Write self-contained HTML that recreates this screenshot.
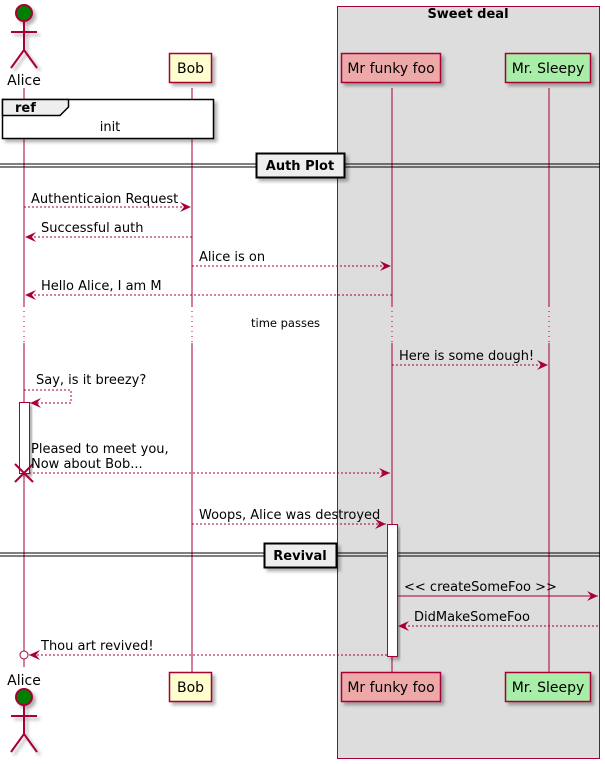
<!DOCTYPE html>
<html><head><meta charset="utf-8"><style>body{margin:0;background:#fff}svg{display:block}text{font-family:"DejaVu Sans","Liberation Sans",sans-serif;fill:#000}</style></head><body>
<svg width="605" height="764" viewBox="0 0 605 764" xmlns="http://www.w3.org/2000/svg">
<defs>
<filter id="sh" x="-20%" y="-20%" width="150%" height="150%"><feDropShadow dx="3" dy="3" stdDeviation="1.5" flood-color="#000" flood-opacity="0.3"/></filter>
<marker id="ah" markerWidth="12" markerHeight="10" refX="11" refY="5" orient="auto" markerUnits="userSpaceOnUse"><path d="M0,0 L11,5 L0,10 L4,5 Z" fill="#A80036"/></marker>
</defs>
<rect x="337.5" y="6.5" width="262" height="752" fill="#DDDDDD" stroke="#A80036"/>
<text x="468" y="18" font-size="13" font-weight="bold" text-anchor="middle">Sweet deal</text>
<g stroke="#A80036" stroke-width="1">
<line x1="24" y1="88" x2="24" y2="306"/><line x1="24" y1="343" x2="24" y2="667"/>
<line x1="192" y1="88" x2="192" y2="306"/><line x1="192" y1="343" x2="192" y2="672"/>
<line x1="392" y1="88" x2="392" y2="306"/><line x1="392" y1="343" x2="392" y2="672"/>
<line x1="549" y1="88" x2="549" y2="306"/><line x1="549" y1="343" x2="549" y2="672"/>
<g stroke-dasharray="1,4"><line x1="24" y1="306" x2="24" y2="343"/><line x1="192" y1="306" x2="192" y2="343"/><line x1="392" y1="306" x2="392" y2="343"/><line x1="549" y1="306" x2="549" y2="343"/></g>
</g>
<g stroke="#A80036" stroke-width="2" fill="none" filter="url(#sh)">
<circle cx="24" cy="13" r="8" fill="#008000"/><line x1="24" y1="21" x2="24" y2="50"/><line x1="11" y1="32" x2="37" y2="32"/><polyline points="11,68 24,50 37,68"/>
<circle cx="24" cy="697" r="8" fill="#008000"/><line x1="24" y1="705" x2="24" y2="734"/><line x1="11" y1="716" x2="37" y2="716"/><polyline points="11,752 24,734 37,752"/>
</g>
<text x="24" y="85" font-size="14" text-anchor="middle">Alice</text>
<text x="24" y="685" font-size="14" text-anchor="middle">Alice</text>
<g stroke="#A80036" stroke-width="1.5" filter="url(#sh)">
<rect x="169.5" y="53.5" width="42" height="29" fill="#FEFECE"/>
<rect x="341.5" y="53.5" width="99" height="29" fill="#EDA8A8"/>
<rect x="505.5" y="53.5" width="85" height="29" fill="#A8EDA8"/>
<rect x="169.5" y="672.5" width="42" height="29" fill="#FEFECE"/>
<rect x="341.5" y="672.5" width="99" height="29" fill="#EDA8A8"/>
<rect x="505.5" y="672.5" width="85" height="29" fill="#A8EDA8"/>
</g>
<g font-size="14" text-anchor="middle">
<text x="190.5" y="73">Bob</text><text x="391" y="73">Mr funky foo</text><text x="548" y="73">Mr. Sleepy</text>
<text x="190.5" y="692">Bob</text><text x="391" y="692">Mr funky foo</text><text x="548" y="692">Mr. Sleepy</text>
</g>
<rect x="2.5" y="99.5" width="211" height="39" fill="#fff" stroke="#000" stroke-width="1.5" filter="url(#sh)"/>
<path d="M2.5,99.5 H68.5 V107 L60,115.5 H2.5 Z" fill="#EEEEEE" stroke="#000" stroke-width="1.5"/>
<text x="15" y="112" font-size="13" font-weight="bold">ref</text>
<text x="110" y="131" font-size="13" text-anchor="middle">init</text>
<g stroke="#000" stroke-width="1"><line x1="0" y1="164" x2="600" y2="164"/><line x1="0" y1="167" x2="600" y2="167"/>
<line x1="0" y1="553" x2="600" y2="553"/><line x1="0" y1="556" x2="600" y2="556"/></g>
<rect x="256.5" y="153.5" width="88" height="24" fill="#EEEEEE" stroke="#000" stroke-width="2" filter="url(#sh)"/>
<text x="300" y="170" font-size="13" font-weight="bold" text-anchor="middle">Auth Plot</text>
<rect x="19.5" y="402.5" width="10" height="71" fill="#fff" stroke="#A80036" filter="url(#sh)"/>
<rect x="387.5" y="524.5" width="10" height="132" fill="#fff" stroke="#A80036" filter="url(#sh)"/>
<rect x="264.5" y="543.5" width="72" height="24" fill="#EEEEEE" stroke="#000" stroke-width="2" filter="url(#sh)"/>
<text x="300" y="560" font-size="13" font-weight="bold" text-anchor="middle">Revival</text>
<g stroke="#A80036" stroke-width="1" fill="none" marker-end="url(#ah)">
<line x1="24" y1="207" x2="191" y2="207" stroke-dasharray="2,2"/>
<line x1="192" y1="237" x2="25" y2="237" stroke-dasharray="2,2"/>
<line x1="192" y1="266" x2="391" y2="266" stroke-dasharray="2,2"/>
<line x1="392" y1="295" x2="25" y2="295" stroke-dasharray="2,2"/>
<line x1="392" y1="365" x2="548" y2="365" stroke-dasharray="2,2"/>
<polyline points="24,390 71,390 71,403 30,403" stroke-dasharray="2,2"/>
<line x1="29" y1="473" x2="390" y2="473" stroke-dasharray="2,2"/>
<line x1="192" y1="524" x2="386" y2="524" stroke-dasharray="2,2"/>
<line x1="397" y1="596" x2="598" y2="596"/>
<line x1="598" y1="626" x2="398" y2="626" stroke-dasharray="2,2"/>
<line x1="387" y1="655" x2="29" y2="655" stroke-dasharray="2,2"/>
</g>
<circle cx="24" cy="655" r="4" fill="#fff" stroke="#A80036"/>
<g stroke="#A80036" stroke-width="2"><line x1="15" y1="464" x2="33" y2="482"/><line x1="33" y1="464" x2="15" y2="482"/></g>
<g font-size="13">
<text x="31" y="203">Authenticaion Request</text>
<text x="41" y="232">Successful auth</text>
<text x="199" y="261">Alice is on</text>
<text x="41" y="290">Hello Alice, I am M</text>
<text x="251" y="327" font-size="11.5">time passes</text>
<text x="399" y="360">Here is some dough!</text>
<text x="36" y="384">Say, is it breezy?</text>
<text x="31" y="453">Pleased to meet you,</text>
<text x="31" y="468">Now about Bob...</text>
<text x="199" y="519">Woops, Alice was destroyed</text>
<text x="404" y="591">&lt;&lt; createSomeFoo &gt;&gt;</text>
<text x="414" y="621">DidMakeSomeFoo</text>
<text x="41" y="650">Thou art revived!</text>
</g>
</svg>
</body></html>
